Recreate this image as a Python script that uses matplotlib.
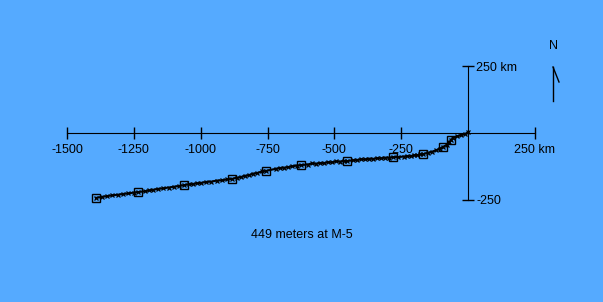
import numpy as np
import matplotlib.pyplot as plt

# Track of the drift (km east, km north from the origin)
track_x = [0, -10, -25, -40, -55, -64, -70, -80, -94, -105, -120, -135, -150, -168,
           -180, -190, -203, -215, -228, -240, -260, -281, -295, -310, -325, -340,
           -355, -370, -385, -400, -415, -430, -453, -465, -480, -495, -510, -525,
           -540, -555, -570, -585, -600, -625, -640, -660, -675, -690, -705, -720,
           -756, -770, -790, -805, -820, -835, -850, -865, -883, -900, -920, -940,
           -960, -980, -1000, -1015, -1030, -1045, -1062, -1080, -1100, -1120,
           -1140, -1160, -1180, -1195, -1210, -1234, -1250, -1270, -1290, -1310,
           -1330, -1350, -1370, -1392]
track_y = [2, -3, -8, -12, -18, -26, -35, -45, -52, -58, -65, -70, -74, -79,
           -80, -83, -83, -87, -86, -88, -90, -90, -93, -92, -95, -94,
           -97, -96, -99, -98, -101, -102, -105, -104, -107, -106, -110, -109,
           -113, -112, -115, -114, -118, -120, -122, -125, -128, -130, -131, -134,
           -142, -144, -150, -152, -158, -160, -165, -167, -172, -173, -177, -178,
           -182, -183, -187, -188, -191, -192, -195, -198, -201, -204,
           -207, -209, -213, -215, -218, -221, -223, -226, -228, -231,
           -233, -236, -239, -243]

# square markers along the track
mark_x = [-1392, -1234, -1062, -883, -756, -625, -453, -281, -168, -94, -64]
mark_y = [-243, -221, -195, -172, -142, -120, -105, -90, -79, -52, -26]

xticks = [-1500, -1250, -1000, -750, -500, -250, 250]
xlabels = ['-1500', '-1250', '-1000', '-750', '-500', '-250', '250 km']
yticks = [-250, 250]
ylabels = ['-250', '250 km']

caption = '449 meters at M-5'
bg = '#55aaff'

plt.rcParams['font.family'] = ['Liberation Sans', 'DejaVu Sans']

fig = plt.figure(figsize=(6.03, 3.02), dpi=100, facecolor=bg)
ax = fig.add_axes([0, 0, 1, 1], facecolor=bg)

s = 0.26733  # pixels per km
ax.set_xlim(-468 / s, (603 - 468) / s)
ax.set_ylim(-(302 - 133) / s, 133 / s)

# axes crossing at the origin
for side in ['top', 'left']:
    ax.spines[side].set_visible(False)
ax.spines['bottom'].set_position(('data', 0))
ax.spines['bottom'].set_bounds(-1500, 250)
ax.spines['right'].set_position(('data', 0))
ax.spines['right'].set_bounds(-250, 250)
ax.yaxis.tick_right()

ax.set_xticks(xticks)
ax.set_xticklabels(xlabels)
ax.set_yticks(yticks)
ax.set_yticklabels(ylabels)
ax.tick_params(axis='both', direction='inout', length=8, width=1, labelsize=9, pad=4)
ax.tick_params(axis='y', pad=2)

ax.plot(track_x, track_y, color='black', lw=1.5, marker='x', ms=2.5, mew=0.9)
ax.plot(mark_x, mark_y, ls='none', marker='s', ms=5.5, mfc='none', mec='black', mew=1)

ax.text(0.5, (302 - 235) / 302, caption, transform=ax.transAxes,
        ha='center', va='center', fontsize=9)

# north arrow
ax.text(553 / 603, (302 - 46) / 302, 'N', transform=ax.transAxes,
        ha='center', va='center', fontsize=9)
ax.plot([553 / 603, 553 / 603], [(302 - 101) / 302, (302 - 67) / 302],
        transform=ax.transAxes, color='black', lw=1)
ax.plot([553 / 603, 559 / 603], [(302 - 67) / 302, (302 - 82) / 302],
        transform=ax.transAxes, color='black', lw=1)

fig.savefig('out.png', dpi=100, facecolor=bg)
